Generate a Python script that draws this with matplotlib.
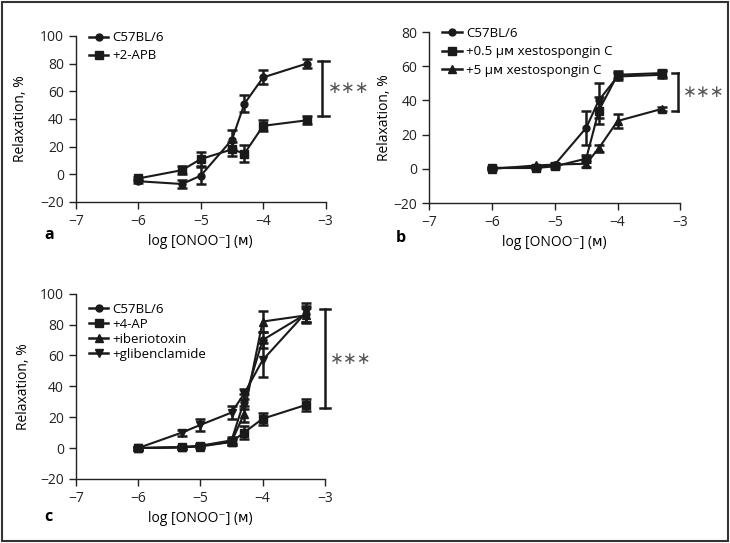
import matplotlib
matplotlib.use("Agg")
import matplotlib.pyplot as plt
from matplotlib.patches import Rectangle
from matplotlib.lines import Line2D

plt.rcParams['font.family'] = ['Open Sans', 'DejaVu Sans']
plt.rcParams['font.size'] = 10

# log concentrations (same for all panels)
conc = [-6, -5.3, -5, -4.5, -4.3, -4, -3.3]

# panel a
a_ctrl = [-5, -7, -1, 25, 51, 70, 80]
a_ctrl_err = [1, 3, 6, 7, 6, 5, 3]
a_apb = [-3, 3, 11, 18, 15, 35, 39]
a_apb_err = [1, 3, 5, 5, 6, 4, 3]

# panel b
b_ctrl = [0.5, 1, 2.5, 24, 40, 54, 55]
b_ctrl_err = [0.5, 0.5, 1, 10, 10, 2, 2]
b_xc05 = [0.5, 0.5, 1.5, 6, 34, 55, 56]
b_xc05_err = [0.5, 0.5, 1, 2, 8, 2, 2]
b_xc5 = [0, 2, 2.5, 3, 12, 28, 35]
b_xc5_err = [0.5, 0.5, 0.5, 2, 2, 4, 1]

# panel c
c_ctrl = [0, 0.5, 1.5, 5, 30, 70, 87]
c_ctrl_err = [1, 1, 1, 2, 5, 5, 5]
c_4ap = [0, 0.5, 1.5, 4, 10, 19, 28]
c_4ap_err = [1, 1, 1, 2, 4, 4, 4]
c_ibtx = [0, 0.5, 1, 4, 22, 82, 86]
c_ibtx_err = [1, 1, 1, 2, 5, 7, 5]
c_glib = [0, 10, 15, 23, 35, 57, 88]
c_glib_err = [1, 2, 4, 4, 3, 11, 6]

xlabel = 'log [ONOO\u207b] (\u1d0d)'
ylabel = 'Relaxation, %'
INK = '#1a1a1a'

fig = plt.figure(figsize=(7.3, 5.43), dpi=100)
ax_a = fig.add_axes([0.104, 0.628, 0.342, 0.306])
ax_b = fig.add_axes([0.588, 0.626, 0.344, 0.315])
ax_c = fig.add_axes([0.104, 0.118, 0.341, 0.341])


def series(ax, y, err, marker, ms, label):
    ax.errorbar(conc, y, yerr=err, color=INK, marker=marker, ms=ms,
                lw=1.5, elinewidth=1.8, capsize=3.5, capthick=1.8,
                clip_on=False)
    return Line2D([], [], color=INK, marker=marker, ms=ms, lw=1.8, label=label)


def style(ax, ylim, yticks, ylab_x):
    ax.set_xlim(-7, -3)
    ax.set_ylim(*ylim)
    ax.set_xticks([-7, -6, -5, -4, -3])
    ax.set_xticklabels(['\u22127', '\u22126', '\u22125', '\u22124', '\u22123'])
    ax.set_yticks(yticks)
    ax.set_yticklabels([('\u2212' + str(-t)) if t < 0 else str(t) for t in yticks])
    for s in ['top', 'right']:
        ax.spines[s].set_visible(False)
    for s in ['left', 'bottom']:
        ax.spines[s].set_linewidth(1.0)
        ax.spines[s].set_color('#222222')
    ax.tick_params(direction='out', length=5, width=1.0, colors='#222222')
    ax.set_xlabel(xlabel, labelpad=4)
    ax.set_ylabel(ylabel)
    ax.yaxis.set_label_coords(ylab_x, 0.5)


def sig_bar(ax, x, y0, y1, cap_l, cap_r):
    ax.plot([x, x], [y0, y1], color=INK, lw=1.8, clip_on=False)
    for yy in (y0, y1):
        ax.plot([x - cap_l, x + cap_r], [yy, yy], color=INK, lw=1.8,
                clip_on=False)
    ax.text(x + 0.08, (y0 + y1) / 2, '\u2217\u2217\u2217', fontsize=12,
            va='center', ha='left', color='#555555', family='DejaVu Sans')


def legend(ax, handles, top, spacing):
    ax.legend(handles=handles, loc='upper left', bbox_to_anchor=(0.03, top),
              frameon=False, fontsize=9.5, handlelength=1.5,
              handletextpad=0.3, labelspacing=spacing, borderaxespad=0)


# a
h = [series(ax_a, a_ctrl, a_ctrl_err, 'o', 5, 'C57BL/6'),
     series(ax_a, a_apb, a_apb_err, 's', 6, '+2-APB')]
style(ax_a, (-20, 100), [-20, 0, 20, 40, 60, 80, 100], -0.19)
sig_bar(ax_a, -3.05, 42, 82, 0.07, 0.1)
legend(ax_a, h, 1.06, 0.4)

# b
h = [series(ax_b, b_ctrl, b_ctrl_err, 'o', 5, 'C57BL/6'),
     series(ax_b, b_xc05, b_xc05_err, 's', 6, '+0.5 \u00b5\u1d0d xestospongin C'),
     series(ax_b, b_xc5, b_xc5_err, '^', 6, '+5 \u00b5\u1d0d xestospongin C')]
style(ax_b, (-20, 80), [-20, 0, 20, 40, 60, 80], -0.15)
sig_bar(ax_b, -3.04, 34, 56, 0.1, 0.0)
legend(ax_b, h, 1.06, 0.4)

# c
h = [series(ax_c, c_ctrl, c_ctrl_err, 'o', 5, 'C57BL/6'),
     series(ax_c, c_4ap, c_4ap_err, 's', 6, '+4-AP'),
     series(ax_c, c_ibtx, c_ibtx_err, '^', 6, '+iberiotoxin'),
     series(ax_c, c_glib, c_glib_err, 'v', 6, '+glibenclamide')]
style(ax_c, (-20, 100), [-20, 0, 20, 40, 60, 80, 100], -0.18)
sig_bar(ax_c, -3.0, 26, 90, 0.08, 0.08)
legend(ax_c, h, 0.98, 0.15)

# panel letters
fig.text(49 / 730, 1 - 235 / 543, 'a', fontsize=11.5, fontweight='bold',
         ha='center', va='center')
fig.text(401 / 730, 1 - 238 / 543, 'b', fontsize=11.5, fontweight='bold',
         ha='center', va='center')
fig.text(48 / 730, 1 - 517 / 543, 'c', fontsize=11.5, fontweight='bold',
         ha='center', va='center')

# outer frame
fig.patches.append(Rectangle((0.003, 0.003), 0.994, 0.994,
                             transform=fig.transFigure, fill=False,
                             edgecolor='#333333', lw=1.5))

fig.savefig('out.png', dpi=100)
